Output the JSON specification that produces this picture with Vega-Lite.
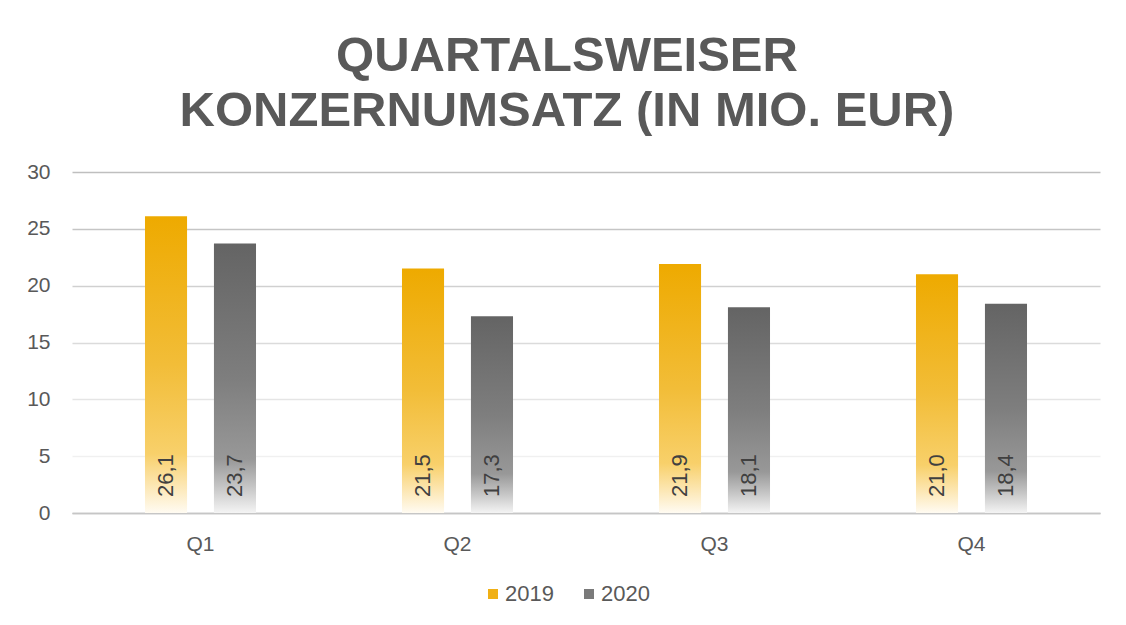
{
  "$schema": "https://vega.github.io/schema/vega-lite/v6.json",
  "width": 1028,
  "height": 341,
  "autosize": {"type": "none"},
  "padding": {"left": 72, "top": 172, "right": 26, "bottom": 112},
  "background": "white",
  "config": {
    "locale": {"number": {"decimal": ",", "thousands": ".", "grouping": [3], "currency": ["", " €"]}},
    "font": "Liberation Sans",
    "view": {"stroke": null}
  },
  "title": {
    "text": ["QUARTALSWEISER", "KONZERNUMSATZ (IN MIO. EUR)"],
    "font": "Liberation Sans",
    "fontSize": 49,
    "fontWeight": "bold",
    "color": "#595959",
    "lineHeight": 55,
    "anchor": "middle",
    "frame": "group",
    "dx": -19,
    "offset": 25
  },
  "data": {
    "values": [
      {"quarter": "Q1", "year": "2019", "value": 26.1},
      {"quarter": "Q1", "year": "2020", "value": 23.7},
      {"quarter": "Q2", "year": "2019", "value": 21.5},
      {"quarter": "Q2", "year": "2020", "value": 17.3},
      {"quarter": "Q3", "year": "2019", "value": 21.9},
      {"quarter": "Q3", "year": "2020", "value": 18.1},
      {"quarter": "Q4", "year": "2019", "value": 21.0},
      {"quarter": "Q4", "year": "2020", "value": 18.4}
    ]
  },
  "encoding": {
    "x": {
      "field": "quarter",
      "type": "nominal",
      "scale": {"paddingInner": 0.568, "paddingOuter": 0.284},
      "axis": {
        "title": null,
        "labelAngle": 0,
        "labelFont": "Liberation Sans",
        "labelFontSize": 21,
        "labelColor": "#595959",
        "labelPadding": 20,
        "ticks": false,
        "tickSize": 0,
        "domain": true,
        "domainColor": "#c6c6c6",
        "domainWidth": 1.5
      }
    },
    "xOffset": {
      "field": "year",
      "type": "nominal",
      "scale": {"paddingInner": 0.39, "paddingOuter": 0}
    },
    "y": {
      "field": "value",
      "type": "quantitative",
      "scale": {"domain": [0, 30]},
      "axis": {
        "title": null,
        "values": [0, 5, 10, 15, 20, 25, 30],
        "labelFont": "Liberation Sans",
        "labelFontSize": 21,
        "labelColor": "#595959",
        "labelPadding": 22,
        "ticks": false,
        "tickSize": 0,
        "domain": false,
        "grid": true,
        "gridColor": "#bfbfbf",
        "gridWidth": 1.3,
        "gridOpacity": {"expr": "datum.value === 0 ? 1 : min(1, 0.06 + 0.034 * datum.value)"}
      }
    }
  },
  "layer": [
    {
      "mark": {"type": "bar"},
      "encoding": {
        "fill": {
          "condition": {
            "test": "datum.year === '2019'",
            "value": {
              "gradient": "linear", "x1": 0, "y1": 0, "x2": 0, "y2": 1,
              "stops": [
                {"offset": 0, "color": "#eeaa00"},
                {"offset": 0.5, "color": "#f2bd38"},
                {"offset": 0.8, "color": "#f8d06a"},
                {"offset": 0.9, "color": "#fce5ae"},
                {"offset": 1, "color": "#fffbf2"}
              ]
            }
          },
          "value": {
            "gradient": "linear", "x1": 0, "y1": 0, "x2": 0, "y2": 1,
            "stops": [
              {"offset": 0, "color": "#646464"},
              {"offset": 0.5, "color": "#7e7e7e"},
              {"offset": 0.8, "color": "#989898"},
              {"offset": 0.9, "color": "#c4c4c4"},
              {"offset": 1, "color": "#f4f4f4"}
            ]
          }
        }
      }
    },
    {
      "mark": {"type": "bar", "opacity": 0},
      "encoding": {
        "color": {
          "field": "year",
          "type": "nominal",
          "scale": {"domain": ["2019", "2020"], "range": ["#f0b015", "#7a7a7a"]},
          "legend": {
            "title": null,
            "orient": "none",
            "direction": "horizontal",
            "legendX": 410,
            "legendY": 411,
            "symbolType": "square",
            "symbolSize": 100,
            "symbolOpacity": 1,
            "symbolStrokeWidth": 0,
            "labelFont": "Liberation Sans",
            "labelFontSize": 22,
            "labelColor": "#595959",
            "labelOffset": 1,
            "columnPadding": 24,
            "encode": {
              "symbols": {
                "update": {
                  "opacity": {"value": 1},
                  "fill": [
                    {
                      "test": "datum.value === '2019'",
                      "value": {
                        "gradient": "linear", "x1": 0, "y1": 0, "x2": 0, "y2": 1,
                        "stops": [
                          {"offset": 0, "color": "#eeaa00"},
                          {"offset": 0.6, "color": "#f5c340"},
                          {"offset": 1, "color": "#fdf0cc"}
                        ]
                      }
                    },
                    {
                      "value": {
                        "gradient": "linear", "x1": 0, "y1": 0, "x2": 0, "y2": 1,
                        "stops": [
                          {"offset": 0, "color": "#646464"},
                          {"offset": 0.6, "color": "#888888"},
                          {"offset": 1, "color": "#e0e0e0"}
                        ]
                      }
                    }
                  ]
                }
              }
            }
          }
        }
      }
    },
    {
      "mark": {
        "type": "text",
        "angle": 270,
        "align": "left",
        "baseline": "middle",
        "dx": 16,
        "font": "Liberation Sans",
        "fontSize": 22,
        "color": "#404040"
      },
      "encoding": {
        "y": {"datum": 0, "type": "quantitative"},
        "text": {"field": "value", "type": "quantitative", "format": ".1f"}
      }
    }
  ]
}
